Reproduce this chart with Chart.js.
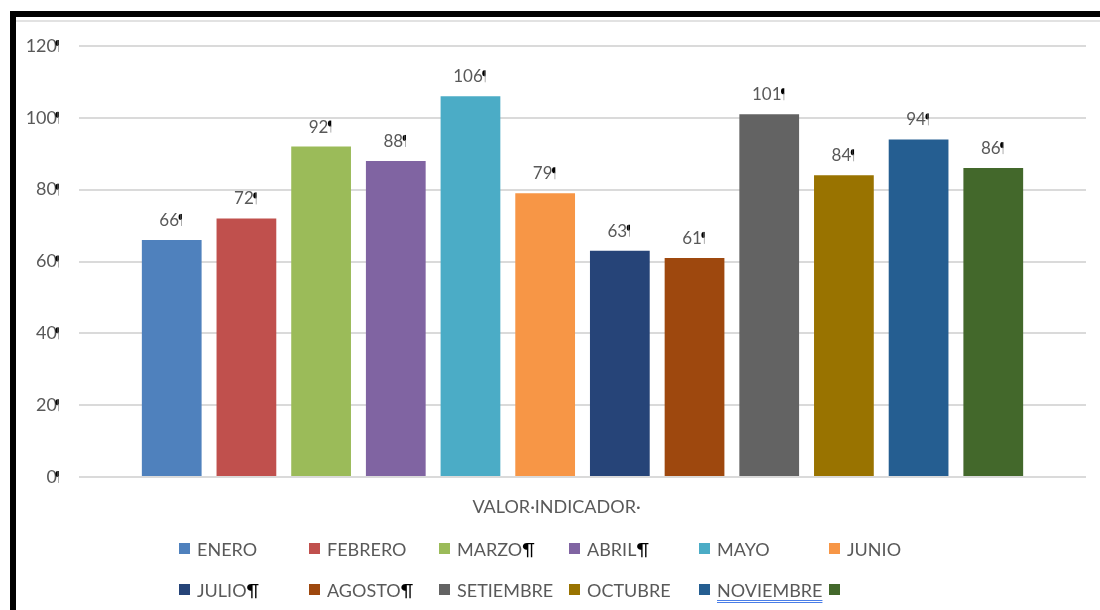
<!DOCTYPE html>
<html>
<head>
<meta charset="utf-8">
<script src="https://cdn.jsdelivr.net/npm/chart.js@4.4.1/dist/chart.umd.min.js"></script>
<style>
  body { margin: 0; background: #fff; width: 1100px; height: 610px; overflow: hidden; position: relative; font-family: Lato, "Open Sans", sans-serif; }
  #frame { position: absolute; left: 10px; top: 11px; width: 1200px; height: 700px; border: 6px solid #000; box-sizing: border-box; }
  #topline { position: absolute; left: 16px; top: 20px; width: 1090px; border-top: 2px solid #e2e2e2; }
  #wrap { position: absolute; left: 0; top: 0; width: 1100px; height: 530px; }
  #legend { position: absolute; left: 179px; top: 528px; display: grid; grid-template-columns: repeat(6, 130px); grid-auto-rows: 41px; }
  .item { display: flex; align-items: center; font-size: 18px; color: #595959; white-space: nowrap; }
  .sw { width: 11px; height: 11px; margin-right: 7px; flex: none; }
  .pil { color: #000; }
  .spell { text-decoration-line: underline; text-decoration-style: double; text-decoration-color: #4a7ee8; text-underline-offset: 3px; }
</style>
</head>
<body>
<div id="frame"></div>
<div id="topline"></div>
<div id="wrap"><canvas id="chart"></canvas></div>
<div id="legend"></div>

<script>
// Data
const category = ['VALOR·INDICADOR·'];
const months = ['ENERO', 'FEBRERO', 'MARZO', 'ABRIL', 'MAYO', 'JUNIO',
                'JULIO', 'AGOSTO', 'SETIEMBRE', 'OCTUBRE', 'NOVIEMBRE', 'DICIEMBRE'];
const values = [66, 72, 92, 88, 106, 79, 63, 61, 101, 84, 94, 86];
const colors = ['#4f81bd', '#c0504d', '#9bbb59', '#8064a2', '#4bacc6', '#f79646',
                '#264478', '#9e480e', '#636363', '#997300', '#255e91', '#43682b'];
// legend text as shown (Word formatting marks, last label hidden behind the swatch)
const legendText = ['ENERO', 'FEBRERO', 'MARZO¶', 'ABRIL¶', 'MAYO', 'JUNIO',
                    'JULIO¶', 'AGOSTO¶', 'SETIEMBRE', 'OCTUBRE', 'NOVIEMBRE', ''];

const TEXT = '#595959';

// small clipped pilcrow mark that Word leaves after numbers
function drawMark(ctx, x, baseline, capH) {
  ctx.save();
  ctx.fillStyle = '#000';
  ctx.beginPath();
  ctx.ellipse(x + 2.5, baseline - capH + 3, 2, 3, 0, Math.PI / 2, Math.PI * 1.5);
  ctx.closePath();
  ctx.fill();
  ctx.fillRect(x + 2.5, baseline - capH, 1.3, 6);
  ctx.fillStyle = '#999';
  ctx.fillRect(x + 3, baseline - capH + 5, 0.8, capH - 5);
  ctx.restore();
}

const pilcrows = {
  id: 'pilcrows',
  afterDraw(chart) {
    const ctx = chart.ctx;
    const y = chart.scales.y;
    ctx.save();
    // marks after y tick labels
    y.ticks.forEach(t => {
      const py = y.getPixelForValue(t.value);
      drawMark(ctx, y.right - 22 - 2, py + 6, 12);
    });
    // value labels above bars
    ctx.font = '17px Lato';
    ctx.fillStyle = TEXT;
    ctx.textAlign = 'left';
    ctx.textBaseline = 'alphabetic';
    chart.data.datasets.forEach((ds, i) => {
      const bar = chart.getDatasetMeta(i).data[0];
      const txt = String(ds.data[0]);
      const w = ctx.measureText(txt).width;
      const x0 = bar.x - (w + 5) / 2;
      const base = bar.y - 14;
      ctx.fillText(txt, x0, base);
      drawMark(ctx, x0 + w - 1, base, 12);
    });
    ctx.restore();
  }
};

new Chart(document.getElementById('chart').getContext('2d'), {
  type: 'bar',
  data: {
    labels: category,
    datasets: months.map((m, i) => ({
      label: m,
      data: [values[i]],
      backgroundColor: colors[i],
      borderWidth: 0
    }))
  },
  options: {
    responsive: true,
    maintainAspectRatio: false,
    animation: false,
    datasets: { bar: { categoryPercentage: 0.89, barPercentage: 0.8 } },
    layout: { padding: { top: 46, right: 14, bottom: 0, left: 0 } },
    scales: {
      x: {
        grid: { display: false },
        border: { display: false },
        ticks: { color: TEXT, font: { family: 'Lato', size: 18 }, padding: 11, labelOffset: -26 },
        afterFit(scale) { scale.height = 53; }
      },
      y: {
        min: 0,
        max: 120,
        ticks: { stepSize: 20, color: TEXT, font: { family: 'Lato', size: 18 }, padding: 22 },
        grid: { color: '#dadada', lineWidth: 2, drawTicks: false },
        border: { display: false },
        afterFit(scale) { scale.width = 79; }
      }
    },
    plugins: {
      legend: { display: false },
      tooltip: { enabled: false }
    }
  },
  plugins: [pilcrows]
});

// HTML legend laid out in the six columns of the original
const legend = document.getElementById('legend');
months.forEach((m, i) => {
  const item = document.createElement('div');
  item.className = 'item';
  const sw = document.createElement('span');
  sw.className = 'sw';
  sw.style.background = colors[i];
  item.appendChild(sw);
  const txt = legendText[i];
  const label = document.createElement('span');
  if (txt.endsWith('¶')) {
    label.textContent = txt.slice(0, -1);
    const p = document.createElement('span');
    p.className = 'pil';
    p.textContent = '¶';
    label.appendChild(p);
  } else {
    label.textContent = txt;
  }
  if (m === 'NOVIEMBRE') label.className = 'spell';
  item.appendChild(label);
  legend.appendChild(item);
});
</script>
</body>
</html>
